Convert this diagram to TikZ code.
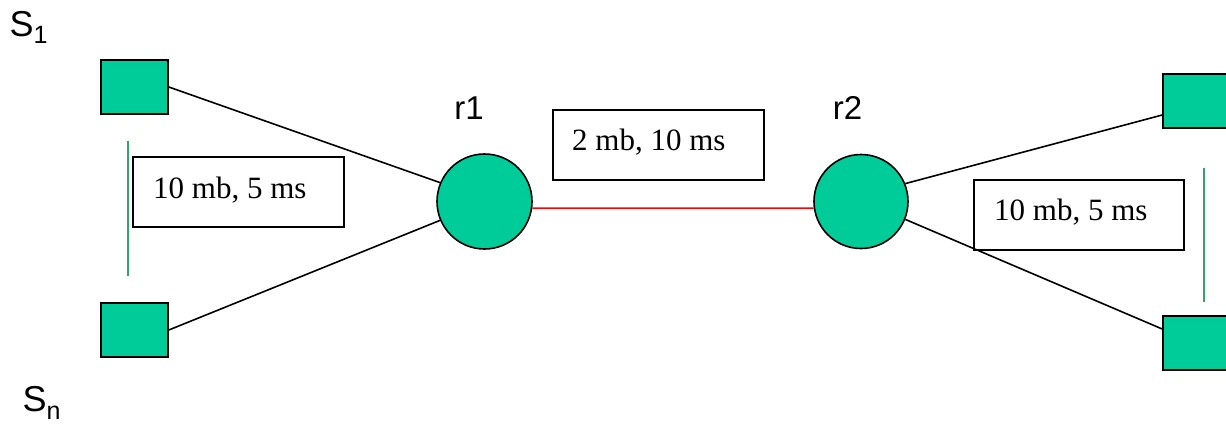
\documentclass[tikz,border=0pt]{standalone}
\usepackage{fontspec}
\newfontfamily\arialf{Liberation Sans}
\newfontfamily\timesf{Liberation Serif}
\definecolor{nodegreen}{RGB}{0,204,153}
\definecolor{guidegreen}{RGB}{51,163,102}
\tikzset{
  host/.style={draw=black, line width=1.6pt, fill=nodegreen, rectangle, minimum width=67pt, minimum height=54pt, inner sep=0pt},
  router/.style={draw=black, line width=1.6pt, fill=nodegreen, circle, inner sep=0pt},
  labelbox/.style={draw=black, line width=1.6pt, rectangle, inner sep=0pt},
  link/.style={draw=black, line width=1.6pt},
  bottleneck/.style={draw=red, line width=1.5pt},
  guide/.style={draw=guidegreen, line width=1.2pt},
  sanslabel/.style={inner sep=0pt, anchor=base west, font=\arialf\fontsize{36}{36}\selectfont},
  rlabel/.style={inner sep=0pt, anchor=base, font=\arialf\fontsize{33}{33}\selectfont},
  boxtext/.style={inner sep=0pt, anchor=base west, font=\timesf\fontsize{31}{31}\selectfont}
}
\begin{document}
\begin{tikzpicture}[x=1pt,y=-1pt]
\useasboundingbox (0,0) rectangle (1226,423);
% hosts
\node[host] (s1) at (134.5,87) {};
\node[host] (sn) at (134.5,330) {};
\node[host] (d1) at (1196.5,101) {};
\node[host] (dn) at (1196.5,343) {};
% routers
\node[router, minimum size=95pt] (r1) at (484.5,201.5) {};
\node[router, minimum size=94pt] (r2) at (861,201.5) {};
% links
\draw[link] (s1.east) -- (r1.157);
\draw[link] (sn.east) -- (r1.203);
\draw[link] (r2.22.5) -- ([yshift=-14pt]d1.west);
\draw[link] (r2.-22.5) -- ([yshift=14pt]dn.west);
\draw[bottleneck] (r1.-8) -- (r2.188);
% guide lines
\coordinate (gl1) at (128,141);
\coordinate (gl2) at (128,276);
\coordinate (gr1) at (1204,168);
\coordinate (gr2) at (1204,302);
\draw[guide] (gl1) -- (gl2);
\draw[guide] (gr1) -- (gr2);
% label boxes
\node[labelbox, minimum width=211pt, minimum height=70pt] (bl) at (238.5,192) {};
\node[labelbox, minimum width=211pt, minimum height=70pt] (bm) at (658.5,145) {};
\node[labelbox, minimum width=210pt, minimum height=70pt] (br) at (1079,215) {};
\node[boxtext] (tl) at (153,198) {10 mb, 5 ms};
\node[boxtext] (tm) at (572,150) {2 mb, 10 ms};
\node[boxtext] (tr) at (994,220.5) {10 mb, 5 ms};
% text labels
\node[rlabel] (lr1) at (469,119.5) {r1};
\node[rlabel] (lr2) at (847.5,119.5) {r2};
\node[sanslabel] (ls1) at (9.5,36.5) {S\raisebox{-7pt}{\fontsize{25}{25}\selectfont 1}};
\node[sanslabel] (lsn) at (22.5,411) {S\raisebox{-8pt}{\fontsize{25}{25}\selectfont n}};
\end{tikzpicture}
\end{document}
